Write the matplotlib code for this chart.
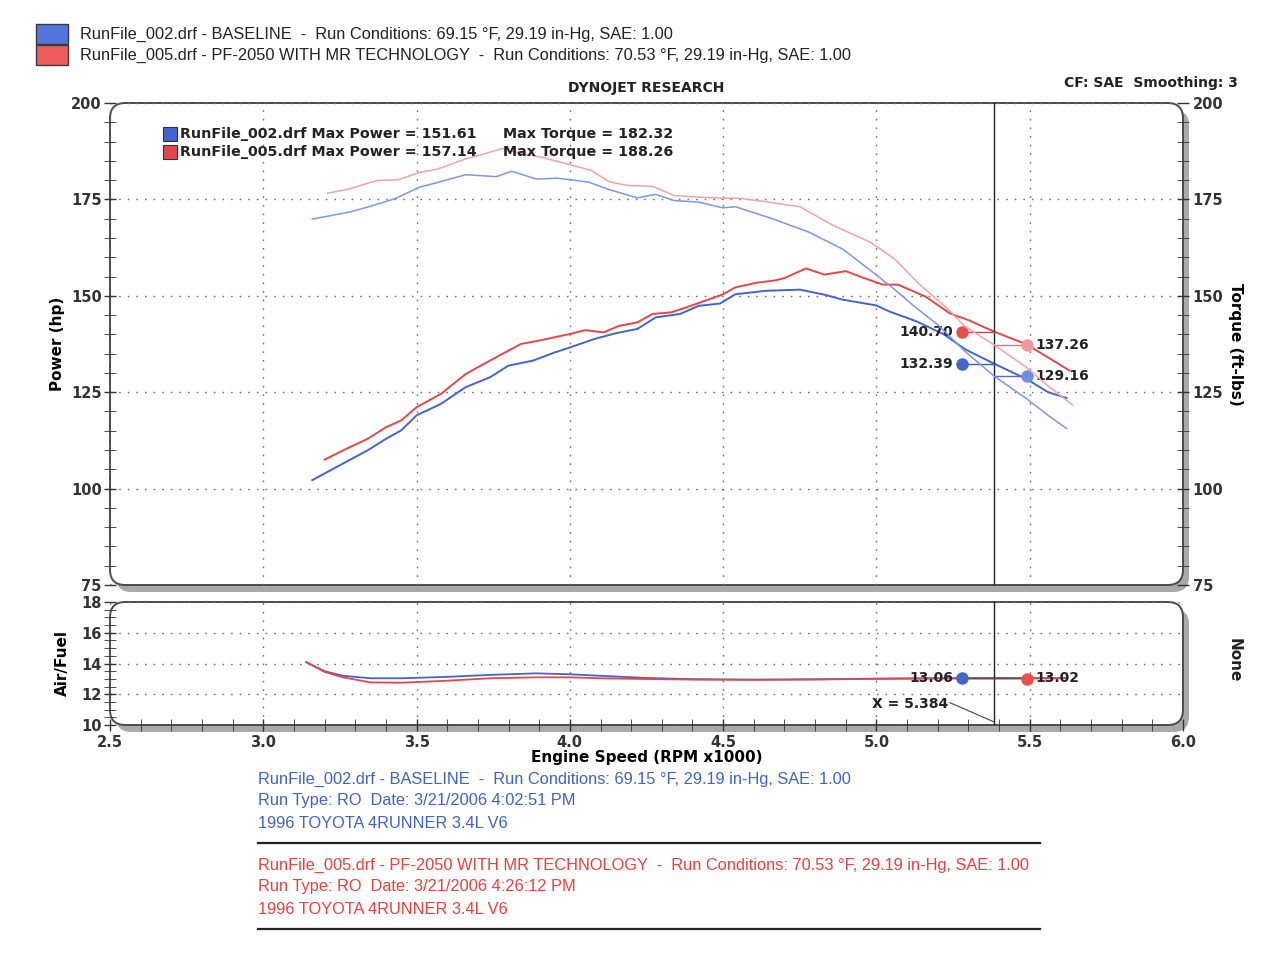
import matplotlib
matplotlib.use("Agg")
import matplotlib.pyplot as plt
from matplotlib.patches import FancyBboxPatch, Rectangle
from matplotlib.ticker import MultipleLocator

# --- data (rpm x1000) ---
bp_rpm = [3.16, 3.26, 3.34, 3.40, 3.45, 3.50, 3.58, 3.66, 3.74, 3.80, 3.88, 3.95, 4.00, 4.08,
          4.15, 4.22, 4.28, 4.36, 4.42, 4.49, 4.54, 4.64, 4.75, 4.83, 4.89, 5.00, 5.04, 5.13,
          5.22, 5.29, 5.384, 5.49, 5.56, 5.62]
bp_hp = [102.2, 106.5, 109.9, 112.9, 115.1, 119.0, 122.0, 126.3, 128.9, 131.9, 133.2, 135.3, 136.6, 138.8,
         140.3, 141.4, 144.4, 145.3, 147.4, 148.0, 150.4, 151.3, 151.6, 150.3, 149.0, 147.5, 146.0, 143.4,
         140.0, 136.1, 132.39, 128.4, 125.0, 123.5]

rp_rpm = [3.20, 3.26, 3.34, 3.40, 3.45, 3.50, 3.58, 3.66, 3.73, 3.77, 3.84, 3.90, 4.00, 4.05,
          4.11, 4.16, 4.22, 4.27, 4.33, 4.38, 4.44, 4.50, 4.54, 4.61, 4.67, 4.70, 4.77, 4.83,
          4.90, 4.96, 5.02, 5.07, 5.16, 5.24, 5.30, 5.384, 5.49, 5.56, 5.63]
rp_hp = [107.5, 109.9, 112.9, 115.9, 117.7, 121.1, 124.6, 129.7, 132.8, 134.5, 137.5, 138.4, 140.1, 141.1,
         140.5, 142.2, 143.1, 145.3, 145.7, 147.0, 148.7, 150.4, 152.2, 153.4, 154.0, 154.6, 157.1, 155.5,
         156.4, 154.6, 152.9, 152.9, 149.8, 145.4, 143.7, 140.70, 137.4, 134.0, 130.6]

bt_rpm = [3.16, 3.28, 3.34, 3.43, 3.51, 3.56, 3.66, 3.76, 3.81, 3.89, 3.96, 4.06, 4.13, 4.22,
          4.28, 4.34, 4.42, 4.50, 4.54, 4.66, 4.78, 4.89, 4.99, 5.06, 5.12, 5.20, 5.29, 5.384,
          5.49, 5.56, 5.62]
bt_tq = [169.9, 171.7, 173.0, 175.2, 178.2, 179.2, 181.4, 180.9, 182.3, 180.3, 180.5, 179.5, 177.5, 175.4,
         176.3, 174.7, 174.3, 172.8, 173.1, 170.0, 166.5, 162.1, 156.0, 151.6, 147.5, 142.5, 135.5, 129.16,
         123.3, 119.0, 115.6]

rt_rpm = [3.21, 3.28, 3.37, 3.44, 3.51, 3.57, 3.66, 3.72, 3.78, 3.84, 3.91, 4.01, 4.07, 4.13,
          4.19, 4.27, 4.34, 4.42, 4.50, 4.55, 4.64, 4.75, 4.86, 4.98, 5.06, 5.14, 5.22, 5.29,
          5.384, 5.49, 5.56, 5.64]
rt_tq = [176.6, 177.7, 179.9, 180.1, 182.0, 182.9, 185.5, 186.8, 188.2, 186.9, 185.9, 183.8, 182.5, 179.5,
         178.6, 178.4, 176.0, 175.6, 175.3, 175.3, 174.4, 173.1, 168.2, 163.9, 159.5, 153.0, 147.5, 142.0,
         137.26, 131.4, 126.6, 121.7]

afr_rpm = [3.14, 3.20, 3.26, 3.35, 3.45, 3.60, 3.74, 3.89, 4.00, 4.10, 4.25, 4.41, 4.60, 4.80,
           5.00, 5.20, 5.384, 5.50, 5.62]
afr_blue = [14.09, 13.50, 13.20, 13.04, 13.04, 13.13, 13.26, 13.36, 13.30, 13.20, 13.06, 12.98, 12.95, 12.97,
            13.02, 13.05, 13.06, 13.05, 13.05]
afr_red = [14.09, 13.45, 13.10, 12.77, 12.75, 12.88, 13.04, 13.10, 13.10, 13.04, 12.99, 12.95, 12.94, 12.96,
           13.00, 13.02, 13.02, 13.03, 13.04]

cursor = 5.384
runs = ["RunFile_002.drf", "RunFile_005.drf"]
run_desc = ["BASELINE", "PF-2050 WITH MR TECHNOLOGY"]
run_temp = ["69.15", "70.53"]
run_time = ["4:02:51 PM", "4:26:12 PM"]
max_power = ["151.61", "157.14"]
max_torque = ["182.32", "188.26"]

BLUE, BLUE_T = "#4563cf", "#7f97e3"
RED, RED_T = "#e4474a", "#f3a3a3"
TXT_BLUE, TXT_RED = "#3f63c6", "#e8413d"
W, H = 1279, 960
NARROW = ["Liberation Sans"]

plt.rcParams["font.family"] = ["DejaVu Sans"]
fig = plt.figure(figsize=(W / 100, H / 100), dpi=100)


def fx(x):
    return x / W


def fy(y):
    return 1 - y / H


def panel(left, top, right, bottom):
    # rounded frame with a grey drop shadow, like the dynojet printout
    x0, y0, w, h = fx(left), fy(bottom), fx(right) - fx(left), fy(top) - fy(bottom)
    style = "round,pad=0,rounding_size=0.012"
    fig.patches.append(FancyBboxPatch((x0 + fx(6), y0 - 7 / H), w, h, boxstyle=style,
                                      mutation_aspect=W / H, transform=fig.transFigure,
                                      fc="#a9a9a9", ec="none", zorder=-3))
    fig.patches.append(FancyBboxPatch((x0, y0), w, h, boxstyle=style, mutation_aspect=W / H,
                                      transform=fig.transFigure, fc="white", ec="#4a4a4a",
                                      lw=1.4, zorder=-2))
    ax = fig.add_axes([x0, y0, w, h])
    ax.set_facecolor("none")
    for s in ax.spines.values():
        s.set_visible(False)
    return ax


grid_kw = dict(color="#707070", linestyle=(0, (1.2, 5)), linewidth=1.0)
tick_kw = dict(direction="inout", colors="#333333", labelsize=10.5, width=1.0)

# ---------------- main power / torque panel ----------------
ax = panel(110, 103, 1183, 585)
ax.set_xlim(2.5, 6.0)
ax.set_ylim(75, 200)
ax.xaxis.set_major_locator(MultipleLocator(0.5))
ax.yaxis.set_major_locator(MultipleLocator(25))
ax.yaxis.set_minor_locator(MultipleLocator(5))
ax.grid(True, which="major", **grid_kw)
ax.tick_params(axis="x", length=0, labelbottom=False)
ax.tick_params(axis="y", which="major", length=8, pad=2, **tick_kw)
ax.tick_params(axis="y", which="minor", length=8, direction="inout", colors="#333333")
for t in ax.get_yticklabels():
    t.set_fontweight("bold")
ax.set_ylabel("Power (hp)", fontsize=11, fontweight="bold", labelpad=4)

ax2 = ax.twinx()
ax2.set_ylim(75, 200)
for s in ax2.spines.values():
    s.set_visible(False)
ax2.yaxis.set_major_locator(MultipleLocator(25))
ax2.yaxis.set_minor_locator(MultipleLocator(5))
ax2.tick_params(axis="y", which="major", length=8, pad=3, **tick_kw)
ax2.tick_params(axis="y", which="minor", length=8, direction="inout", colors="#333333")
for t in ax2.get_yticklabels():
    t.set_fontweight("bold")
ax2.set_ylabel("Torque (ft-lbs)", fontsize=11, fontweight="bold", rotation=270, labelpad=14)

ax2.plot(bt_rpm, bt_tq, color=BLUE_T, lw=1.1)
ax2.plot(rt_rpm, rt_tq, color=RED_T, lw=1.1)
ax.plot(bp_rpm, bp_hp, color=BLUE, lw=1.4)
ax.plot(rp_rpm, rp_hp, color=RED, lw=1.4)
ax.axvline(cursor, color="#222222", lw=1.0)

# cursor readouts
lab_kw = dict(fontsize=10, fontweight="bold", color="#222222", va="center")
ax.plot([5.28, cursor], [140.70, 140.70], color="#b05050", lw=1.0)
ax.plot([5.28, cursor], [132.39, 132.39], color="#4a5a9a", lw=1.0)
ax.plot([cursor, 5.49], [137.26, 137.26], color="#c08080", lw=1.0)
ax.plot([cursor, 5.49], [129.16, 129.16], color="#5a6aa8", lw=1.0)
ax.plot(5.28, 140.70, "o", color="#e9504d", ms=8)
ax.plot(5.28, 132.39, "o", color="#4466c8", ms=8)
ax.plot(5.49, 137.26, "o", color="#f29a9a", ms=8)
ax.plot(5.49, 129.16, "o", color="#6c8de0", ms=8)
ax.text(5.25, 140.70, "140.70", ha="right", **lab_kw)
ax.text(5.25, 132.39, "132.39", ha="right", **lab_kw)
ax.text(5.52, 137.26, "137.26", ha="left", **lab_kw)
ax.text(5.52, 129.16, "129.16", ha="left", **lab_kw)

# in-plot legend
for i, (c, yy) in enumerate(zip([BLUE, RED], [134, 152])):
    fig.patches.append(Rectangle((fx(163), fy(yy + 7)), fx(14), 14 / H, transform=fig.transFigure,
                                 fc=c, ec="#333333", lw=0.8))
    fig.text(fx(180), fy(yy), f"{runs[i]} Max Power = {max_power[i]}", fontsize=10.3,
             fontweight="bold", color="#222222", va="center")
    fig.text(fx(503), fy(yy), f"Max Torque = {max_torque[i]}", fontsize=10.3,
             fontweight="bold", color="#222222", va="center")

fig.text(fx(646), fy(88), "DYNOJET RESEARCH", ha="center", va="center", fontsize=10,
         fontweight="bold", color="#222222")
fig.text(fx(1238), fy(83), "CF: SAE  Smoothing: 3", ha="right", va="center", fontsize=10,
         fontweight="bold", color="#222222")

# ---------------- air / fuel panel ----------------
bx = panel(110, 602, 1183, 725)
bx.set_xlim(2.5, 6.0)
bx.set_ylim(10, 18)
bx.xaxis.set_major_locator(MultipleLocator(0.5))
bx.xaxis.set_minor_locator(MultipleLocator(0.1))
bx.yaxis.set_major_locator(MultipleLocator(2))
bx.yaxis.set_minor_locator(MultipleLocator(0.5))
bx.grid(True, which="major", **grid_kw)
bx.tick_params(which="major", length=8, pad=2, **tick_kw)
bx.tick_params(axis="x", which="major", pad=3)
bx.tick_params(which="minor", length=8, direction="inout", colors="#333333")
bx.set_xticks([2.5, 3.0, 3.5, 4.0, 4.5, 5.0, 5.5, 6.0])
bx.set_xticklabels(["2.5", "3.0", "3.5", "4.0", "4.5", "5.0", "5.5", "6.0"])
for t in bx.get_xticklabels() + bx.get_yticklabels():
    t.set_fontweight("bold")
bx.set_ylabel("Air/Fuel", fontsize=11, fontweight="bold", labelpad=8)
bx.set_xlabel("Engine Speed (RPM x1000)", fontsize=11, fontweight="bold", labelpad=0)
bx.plot(afr_rpm, afr_blue, color=BLUE, lw=1.3)
bx.plot(afr_rpm, afr_red, color=RED, lw=1.3)
bx.axvline(cursor, color="#222222", lw=1.0)
bx.plot([5.28, 5.49], [13.04, 13.04], color="#555555", lw=1.0)
bx.plot(5.28, 13.06, "o", color="#4466c8", ms=8)
bx.plot(5.49, 13.02, "o", color="#e9504d", ms=8)
bx.text(5.25, 13.04, "13.06", ha="right", **lab_kw)
bx.text(5.52, 13.04, "13.02", ha="left", **lab_kw)
bx.plot([5.24, cursor], [11.45, 10.2], color="#444444", lw=0.8)
bx.text(5.11, 11.35, "X = 5.384", ha="center", **lab_kw)
fig.text(fx(1234), fy(660), "None", rotation=270, ha="center", va="center", fontsize=11,
         fontweight="bold", color="#222222")

# ---------------- header and footer text ----------------
head = [f"{runs[i]} - {run_desc[i]}  -  Run Conditions: {run_temp[i]} °F, 29.19 in-Hg, SAE: 1.00"
        for i in range(2)]
for i, (c, yy) in enumerate(zip(["#5275dd", "#ef5b5b"], [34, 55])):
    fig.patches.append(Rectangle((fx(36), fy(yy + 10)), fx(32), 20 / H, transform=fig.transFigure,
                                 fc=c, ec="#3a3a3a", lw=1.0))
    fig.text(fx(80), fy(yy), head[i], family=NARROW, fontsize=11.8, color="#222222", va="center")

blocks = [(TXT_BLUE, 779), (TXT_RED, 865)]
for i, (c, y0) in enumerate(blocks):
    lines = [head[i], f"Run Type: RO  Date: 3/21/2006 {run_time[i]}", "1996 TOYOTA 4RUNNER 3.4L V6"]
    for k, s in enumerate(lines):
        fig.text(fx(258), fy(y0 + 22 * k), s, family=NARROW, fontsize=11.8, color=c, va="center")
    fig.add_artist(plt.Line2D([fx(258), fx(1040)], [fy(y0 + 64), fy(y0 + 64)],
                              transform=fig.transFigure, color="#222222", lw=1.6))

fig.savefig("out.png", dpi=100, facecolor="white")
